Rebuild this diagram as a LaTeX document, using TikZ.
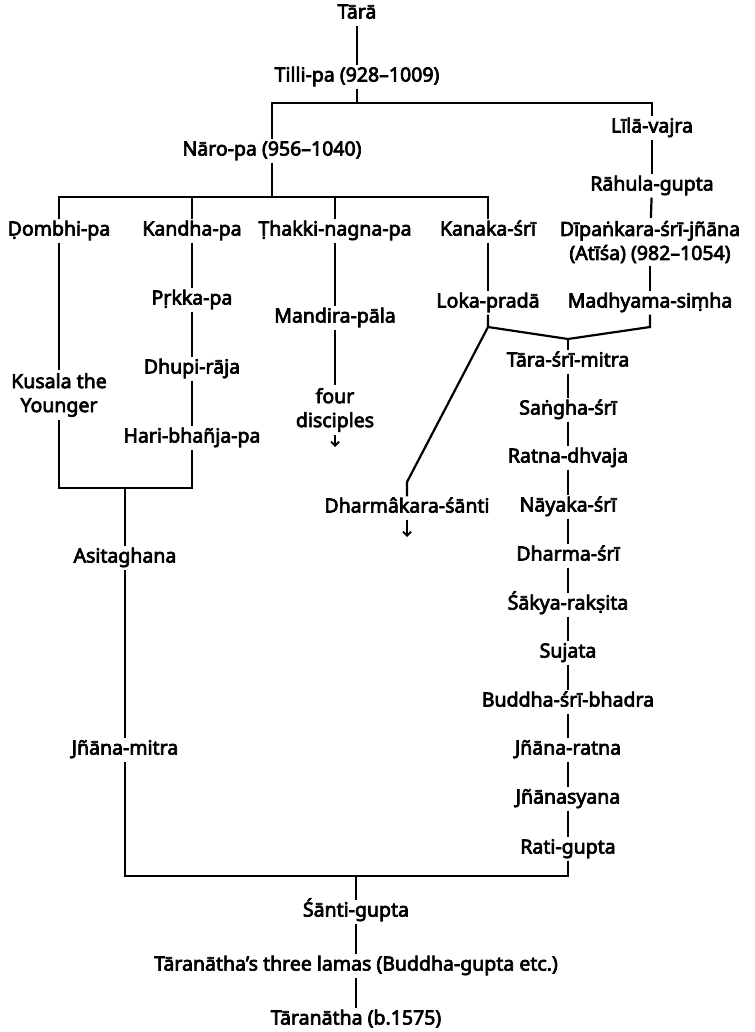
\documentclass[tikz,border=0pt]{standalone}
\usepackage{fontspec}
\setmainfont{Noto Sans}[FakeBold=3.5]
\usetikzlibrary{arrows.meta}
\begin{document}
\begin{tikzpicture}[x=1pt,y=-1pt,
  every node/.style={font=\fontsize{19.5}{24}\selectfont, inner sep=3pt},
  nm/.style={text height=13pt, text depth=4pt},
  ln/.style={line width=2.2pt},
  ar/.style={line width=1.9pt, -{Straight Barb[length=4pt,width=8pt]}}]
\useasboundingbox (0,0) rectangle (754,1032);
% nodes
\node[nm] (tara) at (357,14) {Tārā};
\node[nm] (tilli) at (357,77) {Tilli-pa (928–1009)};
\node[nm] (naro) at (272,151) {Nāro-pa (956–1040)};
\node[nm] (lila) at (652,128) {Līlā-vajra};
\node[nm] (rahula) at (652,186) {Rāhula-gupta};
\node[align=center] (dipa) at (650,242) {Dīpaṅkara-śrī-jñāna\\(Atīśa) (982–1054)};
\node[nm] (dombhi) at (59,231) {Ḍombhi-pa};
\node[nm] (kandha) at (192,231) {Kandha-pa};
\node[nm] (thakki) at (335,231) {Ṭhakki-nagna-pa};
\node[nm] (kanaka) at (488,231) {Kanaka-śrī};
\node[nm] (prkka) at (192,300) {Pṛkka-pa};
\node[nm] (dhupi) at (192,369) {Dhupi-rāja};
\node[nm] (hari) at (192,438) {Hari-bhañja-pa};
\node[align=center] (kusala) at (59,395) {Kusala the\\Younger};
\node[nm] (mandira) at (335,318) {Mandira-pāla};
\node[align=center] (four) at (335,410) {four\\disciples};
\node[nm] (loka) at (488,303) {Loka-pradā};
\node[nm] (madh) at (650,303) {Madhyama-siṃha};
\node[nm] (dharmak) at (407,508) {Dharmâkara-śānti};
\node[nm] (tsm) at (568,362) {Tāra-śrī-mitra};
\node[nm] (sangha) at (568,410) {Saṅgha-śrī};
\node[nm] (ratna) at (568,458) {Ratna-dhvaja};
\node[nm] (nayaka) at (568,507) {Nāyaka-śrī};
\node[nm] (dharmasri) at (568,556) {Dharma-śrī};
\node[nm] (sakya) at (568,605) {Śākya-rakṣita};
\node[nm] (sujata) at (568,653) {Sujata};
\node[nm] (buddha) at (568,702) {Buddha-śrī-bhadra};
\node[nm] (jratna) at (568,750) {Jñāna-ratna};
\node[nm] (jsyana) at (568,799) {Jñānasyana};
\node[nm] (rati) at (568,849) {Rati-gupta};
\node[nm] (asita) at (125,558) {Asitaghana};
\node[nm] (jmitra) at (125,750) {Jñāna-mitra};
\node[nm] (santi) at (356,912) {Śānti-gupta};
\node[nm] (lamas) at (356,966) {Tāranātha’s three lamas (Buddha-gupta etc.)};
\node[nm] (tnatha) at (356,1020) {Tāranātha (b.1575)};
% junction coordinates
\coordinate (j1) at (357,103);
\coordinate (j2) at (272,197);
\coordinate (jbox) at (125,488);
\coordinate (jl) at (488,327);
\coordinate (jm) at (568,339);
\coordinate (jr) at (650,327);
\coordinate (jd) at (407,482);
\coordinate (jb) at (356,876);
\coordinate (four-end) at (335,447);
\coordinate (dk-end) at (407,537);
% connectors
\draw[ln] (tara) -- (tilli);
\draw[ln] (tilli) -- (j1);
\draw[ln] (naro.north) -- (naro.north |- j1) -- (lila.north |- j1) -- (lila.north);
\draw[ln] (lila) -- (rahula);
\draw[ln] (rahula) -- (dipa);
\draw[ln] (dipa) -- (madh);
\draw[ln] (naro) -- (j2);
\draw[ln] (dombhi.north) -- (dombhi.north |- j2) -- (kanaka.north |- j2) -- (kanaka.north);
\draw[ln] (kandha.north) -- (kandha.north |- j2);
\draw[ln] (thakki.north) -- (thakki.north |- j2);
\draw[ln] (kandha) -- (prkka);
\draw[ln] (prkka) -- (dhupi);
\draw[ln] (dhupi) -- (hari);
\draw[ln] (dombhi) -- (kusala);
\draw[ln] (kusala.south) -- (kusala.south |- jbox) -- (hari.south |- jbox) -- (hari.south);
\draw[ln] (jbox) -- (asita);
\draw[ln] (asita) -- (jmitra);
\draw[ln] (jmitra.south) -- (jmitra.south |- jb) -- (rati.south |- jb) -- (rati.south);
\draw[ln] (jb) -- (santi);
\draw[ln] (santi) -- (lamas);
\draw[ln] (lamas) -- (tnatha);
\draw[ln] (thakki) -- (mandira);
\draw[ln] (mandira) -- (four);
\draw[ar] (four) -- (four-end);
\draw[ln] (kanaka) -- (loka);
\draw[ln] (loka.south) -- (jl) -- (jm) -- (jr) -- (madh.south);
\draw[ln] (jm) -- (tsm);
\draw[ln] (jl) -- (jd) -- (dharmak.north);
\draw[ar] (dharmak) -- (dk-end);
\draw[ln] (tsm) -- (sangha);
\draw[ln] (sangha) -- (ratna);
\draw[ln] (ratna) -- (nayaka);
\draw[ln] (nayaka) -- (dharmasri);
\draw[ln] (dharmasri) -- (sakya);
\draw[ln] (sakya) -- (sujata);
\draw[ln] (sujata) -- (buddha);
\draw[ln] (buddha) -- (jratna);
\draw[ln] (jratna) -- (jsyana);
\draw[ln] (jsyana) -- (rati);
\end{tikzpicture}
\end{document}
